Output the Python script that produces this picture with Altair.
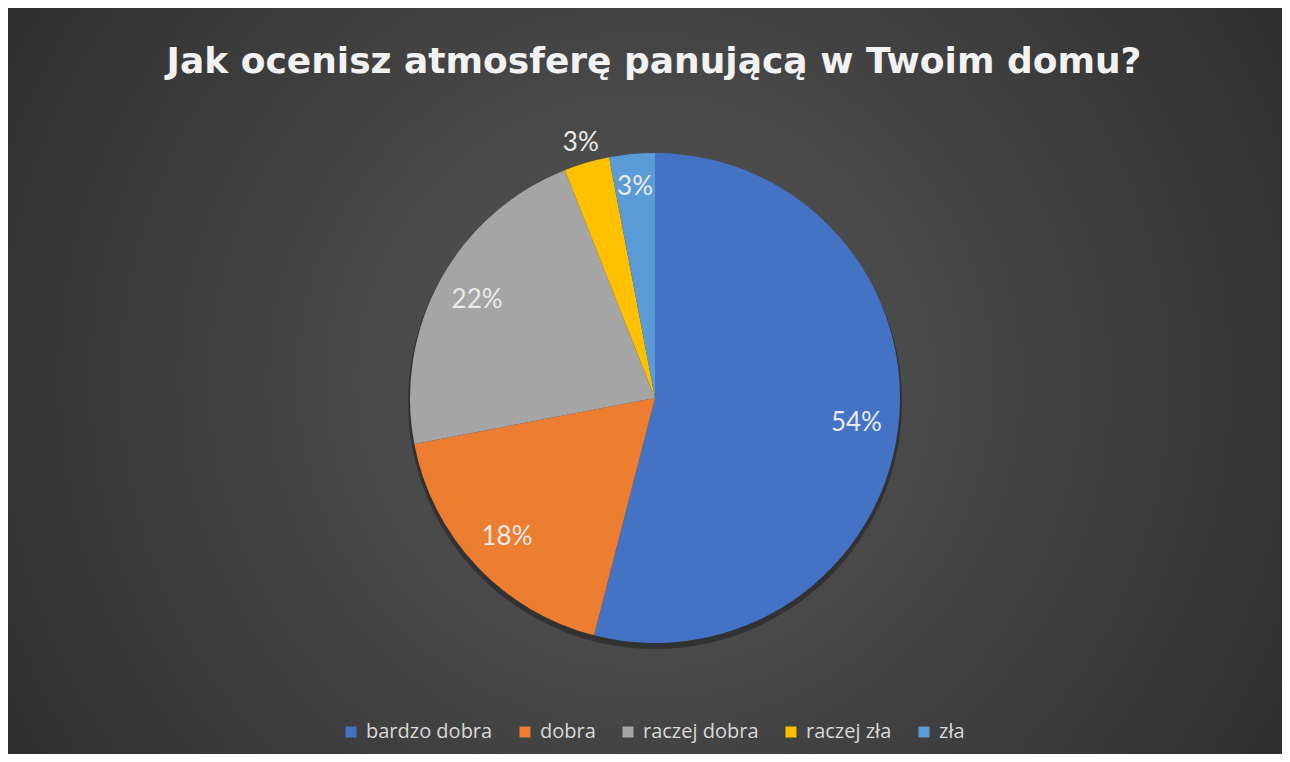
import altair as alt
import pandas as pd

categories = ["bardzo dobra", "dobra", "raczej dobra", "raczej zła", "zła"]
values = [54, 18, 22, 3, 3]
labels = ["54%", "18%", "22%", "3%", "3%"]
colors = ["#4472C4", "#ED7D31", "#A5A5A5", "#FFC000", "#5B9BD5"]
title_text = "Jak ocenisz atmosferę panującą w Twoim domu?"

df = pd.DataFrame({
    "kategoria": categories,
    "wartosc": values,
    "etykieta": labels,
    "idx": list(range(len(categories))),
})
one = pd.DataFrame({"a": [0]})

W, H = 1274, 746
CX, CY, R = 647, 390, 245
TOTAL = sum(values)

bg = alt.Chart(one).mark_rect(
    fill=alt.Gradient(
        gradient="radial",
        stops=[alt.GradientStop(color="#585858", offset=0),
               alt.GradientStop(color="#3c3c3c", offset=0.55),
               alt.GradientStop(color="#262626", offset=1)],
        x1=0.5, y1=0.5, r1=0, x2=0.5, y2=0.5, r2=0.72,
    )
).encode(x=alt.value(0), x2=alt.value(W), y=alt.value(0), y2=alt.value(H))

shadow = alt.Chart(one).mark_arc(
    radius=R + 2, theta=0, theta2=6.2832, color="#161616", opacity=0.45
).encode(x=alt.value(CX), y=alt.value(CY + 4))

pie = alt.Chart(df).mark_arc(radius=R, stroke=None).encode(
    x=alt.value(CX),
    y=alt.value(CY),
    theta=alt.Theta("wartosc:Q", stack=True, scale=alt.Scale(domain=[0, TOTAL])),
    order=alt.Order("idx:Q"),
    color=alt.Color(
        "kategoria:N",
        scale=alt.Scale(domain=categories, range=colors),
        sort=categories,
        legend=alt.Legend(
            title=None, orient="none", direction="horizontal",
            legendX=333, legendY=714, symbolType="square", symbolSize=120,
            symbolStrokeWidth=0, labelColor="#D9D9D9", labelFont="Open Sans",
            labelFontSize=20, labelOffset=5, columnPadding=22,
        ),
    ),
)

text = alt.Chart(df).transform_window(
    cum="sum(wartosc)", sort=[alt.SortField("idx")], frame=[None, 0]
).transform_calculate(
    mid="datum.cum - datum.wartosc / 2",
    lr="datum.kategoria == 'raczej zła' ? 266 : (datum.kategoria == 'zła' ? 212 : 203)",
).mark_text(font="Lato", fontSize=26, color="#EAEAEA", align="center", baseline="middle").encode(
    x=alt.value(CX),
    y=alt.value(CY),
    theta=alt.Theta("mid:Q", stack=None, scale=alt.Scale(domain=[0, TOTAL])),
    radius=alt.Radius("lr:Q", scale=None),
    text="etykieta:N",
)

title = alt.Chart(one).mark_text(
    text=title_text, font="DejaVu Sans", fontWeight="bold", fontSize=36,
    color="#F2F2F2", align="center", baseline="alphabetic"
).encode(x=alt.value(646), y=alt.value(65))

chart = alt.layer(bg, shadow, pie, text, title).properties(
    width=W, height=H,
    autosize=alt.AutoSizeParams(type="none"),
    padding=0,
).configure_view(stroke=None)

chart.save("out.html", embed_options={"renderer": "svg", "actions": False})
